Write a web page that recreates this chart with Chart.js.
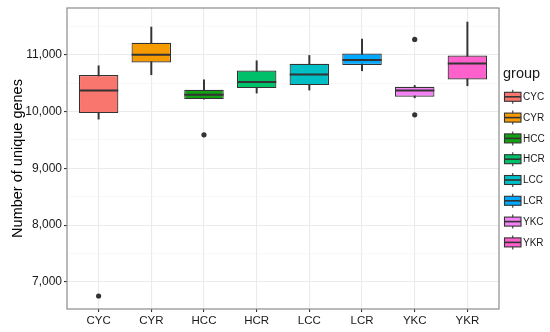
<!DOCTYPE html>
<html>
<head>
<meta charset="utf-8">
<script src="https://cdn.jsdelivr.net/npm/chart.js@4.4.0/dist/chart.umd.min.js"></script>
<style>
  html, body { margin: 0; padding: 0; background: #fff; }
  #wrap { width: 550px; height: 332px; position: relative; }
</style>
</head>
<body>
<div id="wrap"><canvas id="myChart"></canvas></div>
<script>
'use strict'

// box plot numbers
let categories = ['CYC', 'CYR', 'HCC', 'HCR', 'LCC', 'LCR', 'YKC', 'YKR']
let whiskerLow = [9867, 10648, 10219, 10325, 10378, 10718, 10242, 10454]
let q1 = [9973, 10865, 10219, 10413, 10466, 10819, 10260, 10565]
let median = [10371, 11000, 10295, 10519, 10653, 10907, 10371, 10847]
let q3 = [10642, 11211, 10383, 10723, 10841, 11023, 10436, 10988]
let whiskerHigh = [10806, 11488, 10559, 10894, 10988, 11276, 10459, 11576]
let outlierGroup = ['CYC', 'HCC', 'YKC', 'YKC']
let outlierValue = [6753, 9590, 11270, 9943]
let yTicks = [7000, 7500, 8000, 8500, 9000, 9500, 10000, 10500, 11000, 11500]
let colors = ['#F8766D', '#F59B00', '#12A112', '#00C16A', '#00BFC4', '#00A9FF', '#F582F5', '#FF61CC']

let edge = '#333333'

let whiskerData = categories.map((c, i) => ({ x: i, y: [whiskerLow[i], whiskerHigh[i]] }))
let boxData = categories.map((c, i) => ({ x: i, y: [q1[i], q3[i]] }))
let medianData = categories.map((c, i) => ({ x: i, y: median[i] }))
let outlierData = outlierGroup.map((g, i) => ({ x: categories.indexOf(g), y: outlierValue[i] }))

// panel border + legend drawn by hand
const panelAndLegend = {
    id: 'panelAndLegend',
    afterDatasetsDraw(chart) {
        let ctx = chart.ctx
        let a = chart.chartArea
        ctx.save()
        ctx.strokeStyle = '#8c8c8c'
        ctx.lineWidth = 1.2
        ctx.strokeRect(a.left, a.top, a.right - a.left, a.bottom - a.top)

        ctx.fillStyle = '#1a1a1a'
        ctx.font = '14.5px "Liberation Sans", Arial, sans-serif'
        ctx.textBaseline = 'middle'
        ctx.fillText('group', 503, 74)

        ctx.font = '10px "Liberation Sans", Arial, sans-serif'
        for (let i = 0; i < categories.length; i++) {
            let cy = 96.8 + i * 20.8
            let x0 = 504.5, x1 = 521
            ctx.strokeStyle = edge
            ctx.lineWidth = 1.1
            ctx.beginPath()
            ctx.moveTo((x0 + x1) / 2, cy - 7)
            ctx.lineTo((x0 + x1) / 2, cy + 7)
            ctx.stroke()
            ctx.fillStyle = colors[i]
            ctx.fillRect(x0, cy - 4.5, x1 - x0, 9)
            ctx.strokeRect(x0, cy - 4.5, x1 - x0, 9)
            ctx.lineWidth = 1.6
            ctx.beginPath()
            ctx.moveTo(x0, cy)
            ctx.lineTo(x1, cy)
            ctx.stroke()
            ctx.fillStyle = '#1a1a1a'
            ctx.fillText(categories[i], 523, cy + 0.5)
        }
        ctx.restore()
    }
}

let ctx = document.getElementById('myChart')
const myChart = new Chart(ctx, {
    type: 'bar',
    data: {
        datasets: [
            {
                label: 'whisker',
                data: whiskerData,
                backgroundColor: edge,
                borderWidth: 0,
                barThickness: 1.3,
                grouped: false,
                order: 4
            },
            {
                label: 'box',
                data: boxData,
                backgroundColor: colors,
                borderColor: edge,
                borderWidth: 1.2,
                borderSkipped: false,
                categoryPercentage: 1,
                barPercentage: 0.75,
                grouped: false,
                order: 3
            },
            {
                type: 'scatter',
                label: 'median',
                data: medianData,
                pointStyle: 'line',
                pointRadius: 19.6,
                borderColor: edge,
                borderWidth: 2,
                order: 2
            },
            {
                type: 'scatter',
                label: 'outlier',
                data: outlierData,
                pointStyle: 'circle',
                pointRadius: 2.6,
                backgroundColor: edge,
                borderColor: edge,
                borderWidth: 0,
                order: 1
            }
        ]
    },
    options: {
        responsive: true,
        maintainAspectRatio: false,
        animation: false,
        layout: { autoPadding: false, padding: { top: 8, right: 51, left: 0, bottom: 0 } },
        plugins: {
            legend: { display: false },
            tooltip: { enabled: false }
        },
        scales: {
            x: {
                type: 'linear',
                min: -0.6,
                max: 7.6,
                offset: false,
                afterBuildTicks: s => { s.ticks = categories.map((c, i) => ({ value: i })) },
                afterFit: s => { s.height = 23; s.paddingLeft = 0; s.paddingRight = 0 },
                border: { display: false },
                grid: {
                    offset: false,
                    color: '#ebebeb',
                    lineWidth: 1.1,
                    tickLength: 3,
                    tickColor: edge
                },
                ticks: {
                    padding: 2,
                    maxRotation: 0,
                    color: '#1a1a1a',
                    font: { family: '"Liberation Sans", Arial, sans-serif', size: 11.5 },
                    callback: v => categories[v]
                }
            },
            y: {
                type: 'linear',
                min: 6524,
                max: 11823,
                afterBuildTicks: s => { s.ticks = yTicks.map(v => ({ value: v })) },
                afterFit: s => { s.width = 67; s.paddingTop = 0; s.paddingBottom = 0 },
                border: { display: false },
                grid: {
                    color: c => c.tick && c.tick.value % 1000 === 0 ? '#ebebeb' : '#f4f4f4',
                    lineWidth: c => c.tick && c.tick.value % 1000 === 0 ? 1.1 : 0.6,
                    tickLength: 3,
                    tickColor: c => c.tick && c.tick.value % 1000 === 0 ? edge : 'rgba(0,0,0,0)'
                },
                ticks: {
                    padding: 2,
                    color: '#1a1a1a',
                    font: { family: '"Liberation Sans", Arial, sans-serif', size: 12 },
                    callback: v => v % 1000 === 0 ? v.toLocaleString('en-US') : ''
                },
                title: {
                    display: true,
                    text: 'Number of unique genes',
                    color: '#000',
                    font: { family: '"Liberation Sans", Arial, sans-serif', size: 14.5 },
                    padding: { top: 9, bottom: 0 }
                }
            }
        }
    },
    plugins: [panelAndLegend]
});
</script>
</body>
</html>
